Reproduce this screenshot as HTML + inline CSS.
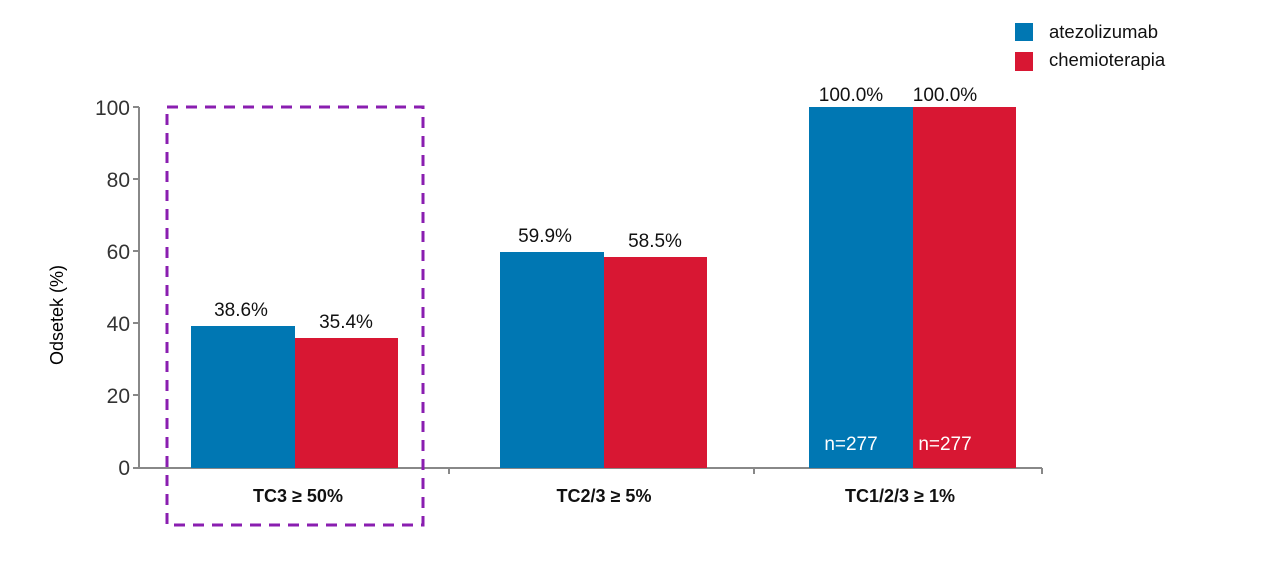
<!DOCTYPE html>
<html><head><style>body{margin:0;background:#fff}</style></head><body>
<svg width="1280" height="580" xmlns="http://www.w3.org/2000/svg" font-family="Liberation Sans, sans-serif">
<rect width="1280" height="580" fill="#fff"/>
<g fill="#333" font-size="21" text-anchor="end">
<text x="130" y="115">100</text><text x="130" y="187">80</text><text x="130" y="259">60</text>
<text x="130" y="331">40</text><text x="130" y="403">20</text><text x="130" y="475">0</text>
</g>
<g stroke="#888" stroke-width="2">
<line x1="139" y1="107" x2="139" y2="468"/>
<line x1="133" y1="468" x2="1042" y2="468"/>
<line x1="133" y1="107" x2="139" y2="107"/><line x1="133" y1="179" x2="139" y2="179"/>
<line x1="133" y1="251" x2="139" y2="251"/><line x1="133" y1="323" x2="139" y2="323"/>
<line x1="133" y1="395" x2="139" y2="395"/>
<line x1="449" y1="468" x2="449" y2="474"/><line x1="754" y1="468" x2="754" y2="474"/><line x1="1042" y1="468" x2="1042" y2="474"/>
</g>
<text transform="translate(63,315) rotate(-90)" font-size="18" text-anchor="middle" fill="#000">Odsetek (%)</text>
<g fill="#0077b3">
<rect x="191" y="326" width="104" height="142"/>
<rect x="500" y="252" width="104" height="216"/>
<rect x="809" y="107" width="104" height="361"/>
</g>
<g fill="#d81733">
<rect x="295" y="338" width="103" height="130"/>
<rect x="604" y="257" width="103" height="211"/>
<rect x="913" y="107" width="103" height="361"/>
</g>
<g font-size="19" text-anchor="middle" fill="#111">
<text x="241" y="316">38.6%</text><text x="346" y="328">35.4%</text>
<text x="545" y="242">59.9%</text><text x="655" y="247">58.5%</text>
<text x="851" y="101">100.0%</text><text x="945" y="101">100.0%</text>
</g>
<g font-size="19" text-anchor="middle" fill="#fff">
<text x="851" y="450">n=277</text><text x="945" y="450">n=277</text>
</g>
<g font-size="18" font-weight="bold" text-anchor="middle" fill="#111">
<text x="298" y="502">TC3 ≥ 50%</text><text x="604" y="502">TC2/3 ≥ 5%</text><text x="900" y="502">TC1/2/3 ≥ 1%</text>
</g>
<rect x="167" y="107" width="256" height="418" fill="none" stroke="#8a1eb0" stroke-width="3" stroke-dasharray="11,8"/>
<rect x="1015" y="23" width="18" height="18" fill="#0077b3"/>
<rect x="1015" y="52" width="18" height="19" fill="#d81733"/>
<g font-size="18.5" fill="#111"><text x="1049" y="38">atezolizumab</text><text x="1049" y="66">chemioterapia</text></g>
</svg>
</body></html>
